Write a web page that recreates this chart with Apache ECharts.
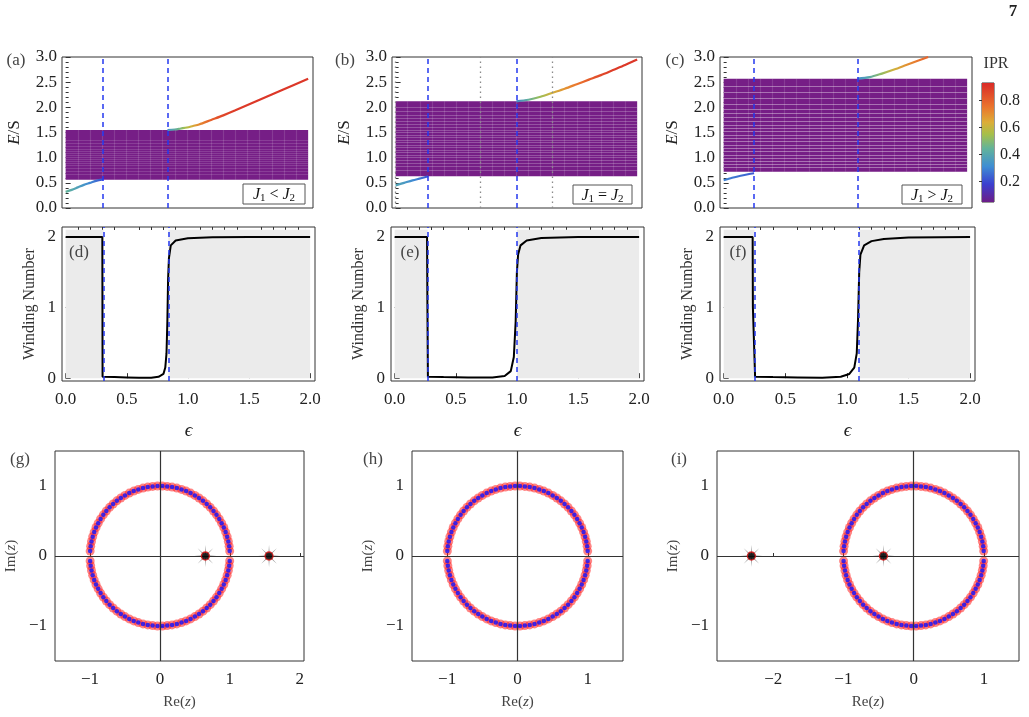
<!DOCTYPE html>
<html><head><meta charset="utf-8">
<script src="https://cdn.jsdelivr.net/npm/echarts@6/dist/echarts.min.js"></script>
<style>html,body{margin:0;padding:0;background:#fff}#c{width:1029px;height:717px}</style>
</head><body><div id="c"></div>
<script>
// ---------------- data ----------------
const epsMin = -0.03, epsMax = 2.04;
const epsTicks = [0, 0.5, 1, 1.5, 2];
const epsMinorTicks = [0.1,0.2,0.3,0.4,0.6,0.7,0.8,0.9,1.1,1.2,1.3,1.4,1.6,1.7,1.8,1.9];
const windTicks = [0, 1, 2];
const iprTicks = [0.2, 0.4, 0.6, 0.8];
const iprMin = 0.05, iprMax = 0.93;

const phaseA = [0.31, 0.84];
const phaseB = [0.27, 1.0];
const phaseC = [0.25, 1.10];
const dottedB = [0, 0.7, 1.3];

const bandA = [0.56, 1.55];
const bandB = [0.63, 2.12];
const bandC = [0.72, 2.57];
const gapsA = [0.68,0.74,0.79,0.84,0.88,0.92,0.96,1.0,1.04,1.08,1.12,1.17,1.22,1.28,1.35];
const gapsB = [0.75,0.82,0.88,0.94,1.0,1.05,1.1,1.15,1.2,1.25,1.3,1.35,1.4,1.45,1.5,1.55,1.6,1.66,1.72,1.78,1.85,1.93,2.0];
const gapsC = [0.8,0.86,0.92,0.98,1.05,1.12,1.18,1.25,1.32,1.38,1.45,1.52,1.58,1.65,1.72,1.8,1.88,1.97,2.07,2.18,2.3,2.42];
const bandColumns = [0.1,0.2,0.3,0.4,0.5,0.6,0.7,0.8,0.9,1.0,1.1,1.2,1.3,1.4,1.5,1.6,1.7,1.8,1.9];

// edge states: [eps, E/S, IPR]
const edgeLowA = [[0,0.32,0.46],[0.05,0.36,0.42],[0.1,0.41,0.38],[0.15,0.46,0.34],[0.2,0.5,0.3],[0.25,0.54,0.25],[0.31,0.57,0.17]];
const edgeUpA = [[0.84,1.55,0.3],[0.9,1.56,0.4],[0.95,1.58,0.47],[1.0,1.6,0.55],[1.05,1.63,0.62],[1.1,1.66,0.7],[1.2,1.75,0.8],[1.3,1.84,0.86],[1.4,1.94,0.89],[1.6,2.15,0.9],[1.8,2.36,0.9],[2.0,2.57,0.9]];
const edgeLowB = [[0,0.45,0.4],[0.07,0.5,0.36],[0.14,0.55,0.31],[0.21,0.59,0.26],[0.27,0.63,0.2]];
const edgeUpB = [[1.0,2.12,0.28],[1.1,2.15,0.42],[1.2,2.21,0.53],[1.3,2.29,0.62],[1.4,2.37,0.69],[1.5,2.46,0.75],[1.6,2.55,0.81],[1.7,2.64,0.86],[1.8,2.74,0.89],[1.9,2.84,0.9],[2.0,2.95,0.9]];
const edgeLowC = [[0,0.55,0.3],[0.07,0.6,0.28],[0.14,0.64,0.26],[0.2,0.67,0.24],[0.25,0.69,0.21]];
const edgeUpC = [[1.1,2.57,0.3],[1.2,2.6,0.4],[1.3,2.67,0.52],[1.4,2.75,0.62],[1.5,2.84,0.7],[1.6,2.93,0.76],[1.68,3.0,0.8]];

// winding number vs eps
const windD = [[0,2],[0.3,2],[0.302,0.02],[0.4,0.015],[0.5,0.01],[0.6,0.005],[0.7,0.005],[0.76,0.02],[0.8,0.06],[0.815,0.15],[0.825,0.35],[0.832,0.8],[0.838,1.4],[0.845,1.7],[0.86,1.88],[0.9,1.95],[1.0,1.98],[1.2,1.995],[1.5,2],[2.0,2]];
const windE = [[0,2],[0.265,2],[0.268,1],[0.272,0.02],[0.4,0.015],[0.6,0.01],[0.8,0.01],[0.9,0.03],[0.95,0.1],[0.975,0.3],[0.99,0.8],[1.0,1.5],[1.01,1.75],[1.03,1.88],[1.08,1.95],[1.2,1.985],[1.5,2],[2,2]];
const windF = [[0,2],[0.235,2],[0.237,1],[0.252,1],[0.255,0.02],[0.4,0.015],[0.6,0.01],[0.8,0.005],[0.95,0.02],[1.02,0.06],[1.06,0.15],[1.08,0.35],[1.09,0.8],[1.1,1.5],[1.11,1.75],[1.14,1.88],[1.2,1.94],[1.3,1.97],[1.5,1.99],[2,2]];

// generalized Brillouin zone points (angles in degrees on |z|=1)
const gbzAngles = [4,8,12,16,20,24,28,32,36,40,44,48,52,56,60,64,68,72,76,80,84,88,92,96,100,104,108,112,116,120,124,128,132,136,140,144,148,152,156,160,164,168,172,176,184,188,192,196,200,204,208,212,216,220,224,228,232,236,240,244,248,252,256,260,264,268,272,276,280,284,288,292,296,300,304,308,312,316,320,324,328,332,336,340,344,348,352,356];
const starsG = [[0.65,0],[1.56,0]];
const starsH = [];
const starsI = [[-2.31,0],[-0.43,0]];
const xRangeG = [-1.5, 2.06], xRangeH = [-1.5, 1.5], xRangeI = [-2.8, 1.5];
const xTicksG = [-1,0,1,2], xTicksH = [-1,0,1], xTicksI = [-2,-1,0,1];
const zTicksY = [-1,0,1];

// ---------------- styling helpers ----------------
const FONT = '"Liberation Serif","DejaVu Serif",serif';
const PURPLE = '#761e86';
const DASHBLUE = '#2438f0';
const TXT = '#222';
const FS = 17;
const cmapStops = [[0,'#6c1d87'],[0.15,'#3b3fcf'],[0.3,'#3f8ed3'],[0.45,'#62b39a'],[0.57,'#a6bf4a'],[0.67,'#dcad38'],[0.8,'#ea742d'],[1,'#d92a27']];
function hex2rgb(h){return [parseInt(h.slice(1,3),16),parseInt(h.slice(3,5),16),parseInt(h.slice(5,7),16)];}
function cmapT(t){
  t = Math.max(0, Math.min(1, t));
  for (let i=1;i<cmapStops.length;i++){
    if (t <= cmapStops[i][0]){
      const a=cmapStops[i-1], b=cmapStops[i], f=(t-a[0])/(b[0]-a[0]);
      const ca=hex2rgb(a[1]), cb=hex2rgb(b[1]);
      return 'rgb('+ca.map((v,k)=>Math.round(v+(cb[k]-v)*f)).join(',')+')';
    }
  }
  return cmapStops[cmapStops.length-1][1];
}
function cmapIPR(v){ return cmapT((v-iprMin)/(iprMax-iprMin)); }

const grids=[], xAxes=[], yAxes=[], series=[], graphics=[];
const tickLbl = {color:TXT, fontFamily:FONT, fontSize:FS};
const minusFmt = v => String(v).replace('-', '\u2212');

function addGrid(r){
  grids.push({left:r[0], top:r[1], width:r[2], height:r[3], show:true, borderColor:'#333', borderWidth:1, backgroundColor:'transparent'});
  return grids.length-1;
}

function vLines(xi, yi, values, style, z){
  series.push({type:'line', xAxisIndex:xi, yAxisIndex:yi, data:[], symbol:'none', silent:true, z:z||5,
    markLine:{silent:true, symbol:['none','none'], label:{show:false}, animation:false,
      lineStyle:style, data:values.map(v=>({xAxis:v}))}});
}

function topPanel(r, band, gaps, gapOpacity, edges, phases, dotted){
  const gi = addGrid(r);
  const xi = xAxes.length;
  xAxes.push({gridIndex:gi, type:'value', min:epsMin, max:epsMax, axisLine:{show:false}, axisTick:{show:false}, axisLabel:{show:false}, splitLine:{show:false}});
  const yi = yAxes.length;
  yAxes.push({gridIndex:gi, type:'value', min:0, max:3, interval:0.5,
    axisLine:{show:false}, splitLine:{show:false},
    axisTick:{show:true, inside:true, length:5, lineStyle:{color:'#333'}},
    minorTick:{show:true, splitNumber:5, length:3, lineStyle:{color:'#333'}},
    axisLabel:Object.assign({formatter:v=>v.toFixed(1), margin:5}, tickLbl),
    name:'{i|E}/S', nameLocation:'middle', nameGap:39, nameRotate:90,
    nameTextStyle:{color:TXT, fontFamily:FONT, fontSize:17, rich:{i:{fontStyle:'italic', fontFamily:FONT, fontSize:17, color:TXT}}}});
  // band
  series.push({type:'line', xAxisIndex:xi, yAxisIndex:yi, data:[[0,band[0]],[2,band[1]]], symbol:'none', lineStyle:{opacity:0}, silent:true, z:1,
    markArea:{silent:true, itemStyle:{color:PURPLE}, data:[[{xAxis:0,yAxis:band[0]},{xAxis:2,yAxis:band[1]}]]}});
  series.push({type:'lines', coordinateSystem:'cartesian2d', xAxisIndex:xi, yAxisIndex:yi, silent:true, z:2,
    data:gaps.map(g=>({coords:[[0,g],[2,g]]})), lineStyle:{color:'#ffffff', width:0.9, opacity:gapOpacity}});
  series.push({type:'lines', coordinateSystem:'cartesian2d', xAxisIndex:xi, yAxisIndex:yi, silent:true, z:2,
    data:bandColumns.map(e=>({coords:[[e,band[0]],[e,band[1]]]})), lineStyle:{color:'#ffffff', width:1.2, opacity:0.13}});
  // edge states
  edges.forEach(ed=>{
    const e0 = ed[0][0], e1 = ed[ed.length-1][0];
    const stops = ed.map(p=>({offset:(p[0]-e0)/(e1-e0), color:cmapIPR(p[2])}));
    series.push({type:'line', xAxisIndex:xi, yAxisIndex:yi, data:ed.map(p=>[p[0],p[1]]), smooth:0.3, symbol:'none', silent:true, z:3,
      lineStyle:{width:2.2, color:new echarts.graphic.LinearGradient(0,0,1,0,stops)}});
  });
  if (dotted && dotted.length) vLines(xi, yi, dotted, {color:'#8a8a8a', type:[1.5,3.5], width:1.3}, 4);
  vLines(xi, yi, phases, {color:DASHBLUE, type:[5,4], width:1.5}, 5);
}

function midPanel(r, wind, phases){
  const gi = addGrid(r);
  const xi = xAxes.length;
  xAxes.push({gridIndex:gi, type:'value', min:epsMin, max:epsMax, axisLine:{show:false}, splitLine:{show:false},
    axisTick:{show:true, inside:true, length:5, customValues:epsTicks, lineStyle:{color:'#333'}},
    axisLabel:Object.assign({customValues:epsTicks, formatter:v=>v.toFixed(1), margin:10}, tickLbl),
    name:'\u03F5', nameLocation:'middle', nameGap:40,
    nameTextStyle:{color:TXT, fontFamily:FONT, fontSize:19, fontStyle:'italic'}});
  xAxes.push({gridIndex:gi, type:'value', min:epsMin, max:epsMax, axisLine:{show:false}, splitLine:{show:false},
    axisTick:{show:true, inside:true, length:3, customValues:epsMinorTicks, lineStyle:{color:'#333'}},
    axisLabel:{show:false}});
  const yi = yAxes.length;
  yAxes.push({gridIndex:gi, type:'value', min:-0.04, max:2.14, axisLine:{show:false}, splitLine:{show:false},
    axisTick:{show:true, inside:true, length:5, customValues:windTicks, lineStyle:{color:'#333'}},
    axisLabel:Object.assign({customValues:windTicks, margin:6}, tickLbl),
    name:'Winding Number', nameLocation:'middle', nameGap:24, nameRotate:90,
    nameTextStyle:{color:'#333', fontFamily:FONT, fontSize:16}});
  series.push({type:'line', xAxisIndex:xi, yAxisIndex:yi, data:[], symbol:'none', silent:true, z:1,
    markArea:{silent:true, itemStyle:{color:'#ebebeb'}, data:[
      [{xAxis:0,yAxis:0},{xAxis:phases[0],yAxis:2.1}],
      [{xAxis:phases[1],yAxis:0},{xAxis:2,yAxis:2.1}]]}});
  vLines(xi, yi, phases, {color:DASHBLUE, type:[5,4], width:1.5}, 3);
  series.push({type:'line', xAxisIndex:xi, yAxisIndex:yi, data:wind, symbol:'none', silent:true, z:4,
    lineStyle:{color:'#000', width:2}});
}

function botPanel(r, xr, xt, stars){
  const gi = addGrid(r);
  const xi = xAxes.length;
  xAxes.push({gridIndex:gi, type:'value', min:xr[0], max:xr[1], axisLine:{show:false}, splitLine:{show:false},
    axisTick:{show:true, inside:true, length:3, customValues:xt, lineStyle:{color:'#333'}},
    axisLabel:Object.assign({customValues:xt, formatter:minusFmt, margin:10}, tickLbl),
    name:'Re({i|z})', nameLocation:'middle', nameGap:34,
    nameTextStyle:{color:'#444', fontFamily:FONT, fontSize:15, rich:{i:{fontStyle:'italic', fontFamily:FONT, fontSize:15, color:'#444'}}}});
  const yi = yAxes.length;
  yAxes.push({gridIndex:gi, type:'value', min:-1.5, max:1.5, axisLine:{show:false}, splitLine:{show:false},
    axisTick:{show:true, inside:true, length:3, customValues:zTicksY, lineStyle:{color:'#333'}},
    axisLabel:Object.assign({customValues:zTicksY, formatter:minusFmt, margin:8}, tickLbl),
    name:'Im({i|z})', nameLocation:'middle', nameGap:36, nameRotate:90,
    nameTextStyle:{color:'#444', fontFamily:FONT, fontSize:15, rich:{i:{fontStyle:'italic', fontFamily:FONT, fontSize:15, color:'#444'}}}});
  series.push({type:'line', xAxisIndex:xi, yAxisIndex:yi, data:[], symbol:'none', silent:true, z:1,
    markLine:{silent:true, symbol:['none','none'], label:{show:false}, animation:false,
      lineStyle:{color:'#333', type:'solid', width:1.2}, data:[{xAxis:0},{yAxis:0}]}});
  const pts = gbzAngles.map(a=>[Math.cos(a*Math.PI/180), Math.sin(a*Math.PI/180)]);
  series.push({type:'scatter', xAxisIndex:xi, yAxisIndex:yi, data:pts, symbol:'circle', symbolSize:9, silent:true, z:2,
    itemStyle:{color:'rgba(255,30,30,0.68)'}});
  series.push({type:'scatter', xAxisIndex:xi, yAxisIndex:yi, data:pts, symbol:'circle', symbolSize:4.5, silent:true, z:3,
    itemStyle:{color:'#1010ff'}});
  if (stars.length){
    series.push({type:'scatter', xAxisIndex:xi, yAxisIndex:yi, data:stars, silent:true, z:4, symbolSize:22,
      symbol:'path://M10 0 L1.39 0.57 L7.07 7.07 L0.57 1.39 L0 10 L-0.57 1.39 L-7.07 7.07 L-1.39 0.57 L-10 0 L-1.39 -0.57 L-7.07 -7.07 L-0.57 -1.39 L0 -10 L0.57 -1.39 L7.07 -7.07 L1.39 -0.57 Z',
      itemStyle:{color:'#6f6f6f'}});
    series.push({type:'scatter', xAxisIndex:xi, yAxisIndex:yi, data:stars, silent:true, z:5, symbol:'circle', symbolSize:8,
      itemStyle:{color:'#000', borderColor:'#e01010', borderWidth:1.3}});
  }
}

// ---------------- panels ----------------
topPanel([62,57,251,151], bandA, gapsA, 0.16, [edgeLowA, edgeUpA], phaseA, []);
topPanel([392,57,250,151], bandB, gapsB, 0.26, [edgeLowB, edgeUpB], phaseB, dottedB);
topPanel([720,57,252,151], bandC, gapsC, 0.42, [edgeLowC, edgeUpC], phaseC, []);
midPanel([62,227,253,154], windD, phaseA);
midPanel([391,227,253,154], windE, phaseB);
midPanel([720,227,255,154], windF, phaseC);
botPanel([55,451,249,210], xRangeG, xTicksG, starsG);
botPanel([412,451,211,210], xRangeH, xTicksH, starsH);
botPanel([717,451,302,210], xRangeI, xTicksI, starsI);

// colorbar
(function(){
  const gi = addGrid([982,83,12,119]);
  const xi = xAxes.length;
  xAxes.push({gridIndex:gi, type:'value', min:0, max:1, show:false});
  const yi = yAxes.length;
  yAxes.push({gridIndex:gi, type:'value', min:iprMin, max:iprMax, position:'right', axisLine:{show:false}, splitLine:{show:false},
    axisTick:{show:true, inside:true, length:3, customValues:iprTicks, lineStyle:{color:'#333'}},
    axisLabel:Object.assign({customValues:iprTicks, formatter:v=>v.toFixed(1), margin:6}, tickLbl, {fontSize:16})});
  const stops = cmapStops.map(s=>({offset:s[0], color:s[1]}));
  series.push({type:'line', xAxisIndex:xi, yAxisIndex:yi, data:[], symbol:'none', silent:true, z:1,
    markArea:{silent:true, itemStyle:{color:new echarts.graphic.LinearGradient(0,1,0,0,stops)},
      data:[[{xAxis:0,yAxis:iprMin},{xAxis:1,yAxis:iprMax}]]}});
})();

// ---------------- text annotations ----------------
function label(t, x, y, size, color, weight){
  graphics.push({type:'text', x:x, y:y, z:100, style:{text:t, fill:color||'#444', font:(weight||'normal')+' '+(size||17)+'px '+FONT, align:'center', verticalAlign:'middle'}});
}
label('(a)', 16, 61); label('(b)', 345, 61); label('(c)', 675, 61);
label('(d)', 79, 253); label('(e)', 410, 253); label('(f)', 738, 253);
label('(g)', 20, 460); label('(h)', 373, 460); label('(i)', 679, 460);
label('7', 1013, 12, 17, '#222', 'bold');
label('IPR', 996, 64, 16, '#333');

function relBox(x, y, w, h, rel){
  graphics.push({type:'rect', z:100, shape:{x:x, y:y, width:w, height:h}, style:{fill:'#fff', stroke:'#555', lineWidth:1}});
  graphics.push({type:'text', z:101, x:x+w/2, y:y+h/2+1, style:{
    text:'{j|J}{s|1}{o| '+rel+' }{j|J}{s|2}', align:'center', verticalAlign:'middle',
    rich:{
      j:{fontFamily:FONT, fontSize:16, fontStyle:'italic', fill:'#111', lineHeight:18, verticalAlign:'middle'},
      s:{fontFamily:FONT, fontSize:11, fill:'#111', lineHeight:10, verticalAlign:'bottom'},
      o:{fontFamily:FONT, fontSize:16, fill:'#111', lineHeight:18, verticalAlign:'middle'}
    }}});
}
relBox(243,184,62,20,'<');
relBox(573,185,59,19,'=');
relBox(902,185,60,19,'>');

const chart = echarts.init(document.getElementById('c'), null, {renderer:'canvas'});
chart.setOption({animation:false, backgroundColor:'#fff', grid:grids, xAxis:xAxes, yAxis:yAxes, series:series, graphic:graphics});
</script>
</body></html>
